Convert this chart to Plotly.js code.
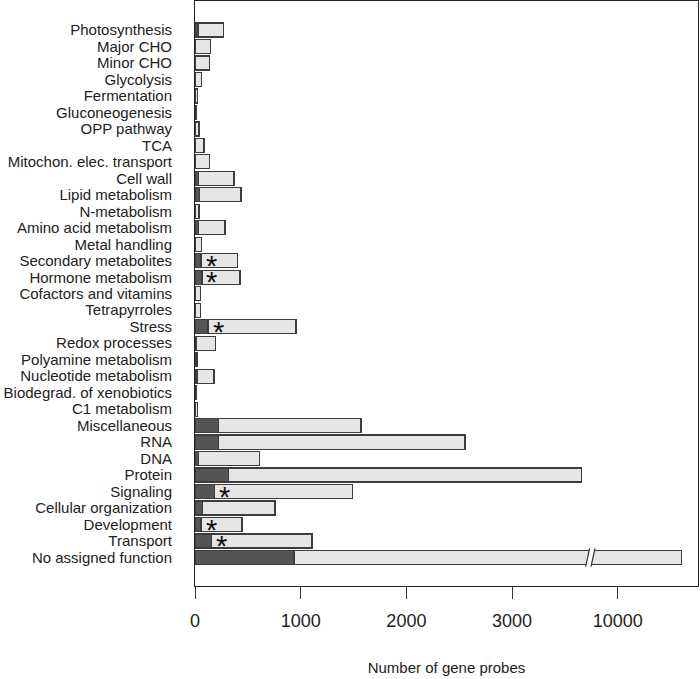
<!DOCTYPE html>
<html>
<head>
<meta charset="utf-8">
<script src="https://cdn.plot.ly/plotly-3.0.1.min.js"></script>
<style>html,body{margin:0;padding:0;background:#fff}#chart{width:700px;height:679px}</style>
</head>
<body>
<div id="chart"></div>
<script>
// Categories (top to bottom)
const categories = [
  "Photosynthesis","Major CHO","Minor CHO","Glycolysis","Fermentation","Gluconeogenesis",
  "OPP pathway","TCA","Mitochon. elec. transport","Cell wall","Lipid metabolism","N-metabolism",
  "Amino acid metabolism","Metal handling","Secondary metabolites","Hormone metabolism",
  "Cofactors and vitamins","Tetrapyrroles","Stress","Redox processes","Polyamine metabolism",
  "Nucleotide metabolism","Biodegrad. of xenobiotics","C1 metabolism","Miscellaneous","RNA",
  "DNA","Protein","Signaling","Cellular organization","Development","Transport","No assigned function"
];
// Dark segment (subset of probes)
const subsetProbes = [28,8,5,5,5,5, 3,5,5,32,44,3, 32,5,57,66, 5,5,123,15,5, 18,8,3,226,226, 35,319,183,73,57,155,937];
// Total probes per category
const totalProbes = [271,148,139,63,26,13, 38,85,136,369,435,38, 284,60,404,426, 54,54,956,196,19, 180,13,26,1571,2555, 612,3659,1489,757,445,1107,10600];
// Categories marked with an asterisk
const starred = ["Secondary metabolites","Hormone metabolism","Stress","Signaling","Development","Transport"];
// Broken axis: ticks
const tickValues = [0,1000,2000,3000,4000];
const tickLabels = ["0","1000","2000","3000","10000"];
const breakFrom = 4000;   // axis position of label 10000
const breakTo = 10000;
const breakMarkAt = 3740; // axis position of the // mark

function axisPos(v){ return v > breakFrom ? v - (breakTo - breakFrom) : v; }

const darkX = subsetProbes.map(v=>axisPos(v));
const lightX = totalProbes.map((t,i)=>axisPos(t) - axisPos(subsetProbes[i]));

const lineStyle = {color:'#3c3c3c', width:1.2};
const traces = [
  {type:'bar', orientation:'h', y:categories, x:darkX, marker:{color:'#555555', line:lineStyle}, hoverinfo:'skip'},
  {type:'bar', orientation:'h', y:categories, x:lightX, marker:{color:'#e6e6e6', line:lineStyle}, hoverinfo:'skip'}
];

const annotations = starred.map(c=>{
  const i = categories.indexOf(c);
  return {x:axisPos(subsetProbes[i]), y:c, xref:'x', yref:'y', text:'*', showarrow:false,
    xanchor:'center', yanchor:'middle', xshift:10, yshift:-5,
    font:{family:'Liberation Sans, Arial, sans-serif', size:29, color:'#111'}};
});

const nIdx = categories.length - 1;
const pxU = 9.46; // axis units per pixel
const shapes = [
  {type:'line', xref:'x', yref:'y', x0:breakMarkAt-2*pxU, x1:breakMarkAt+2*pxU, y0:nIdx+0.5, y1:nIdx-0.5, line:{color:'#ffffff', width:5}},
  {type:'line', xref:'x', yref:'y', x0:breakMarkAt-4.7*pxU, x1:breakMarkAt-0.7*pxU, y0:nIdx+0.55, y1:nIdx-0.55, line:{color:'#333', width:1.2}},
  {type:'line', xref:'x', yref:'y', x0:breakMarkAt+0.7*pxU, x1:breakMarkAt+4.7*pxU, y0:nIdx+0.55, y1:nIdx-0.55, line:{color:'#333', width:1.2}}
];

const layout = {
  width:700, height:679,
  margin:{l:195, r:2, t:1, b:93},
  paper_bgcolor:'#fff', plot_bgcolor:'#fff',
  barmode:'stack', bargap:0.15, showlegend:false,
  font:{family:'Liberation Sans, Arial, sans-serif', color:'#222'},
  xaxis:{range:[0,4759], tickvals:tickValues, ticktext:tickLabels, ticks:'outside', ticklen:12,
    tickcolor:'#333', tickwidth:1, showgrid:false, zeroline:false, showline:true, mirror:true,
    linecolor:'#222', linewidth:1, tickfont:{size:18, color:'#222'}, ticklabelstandoff:6,
    title:{text:'Number of gene probes', font:{size:15, color:'#222'}, standoff:32}},
  yaxis:{type:'category', range:[33.73,-1.76], tickmode:'array', tickvals:categories, ticktext:categories,
    ticks:'outside', ticklen:19, tickcolor:'rgba(0,0,0,0)',
    showgrid:false, zeroline:false, showline:true, mirror:true, linecolor:'#222', linewidth:1,
    tickfont:{size:15, color:'#222'}},
  annotations:annotations, shapes:shapes
};
Plotly.newPlot('chart', traces, layout, {displayModeBar:false, staticPlot:true});
</script>
</body>
</html>
